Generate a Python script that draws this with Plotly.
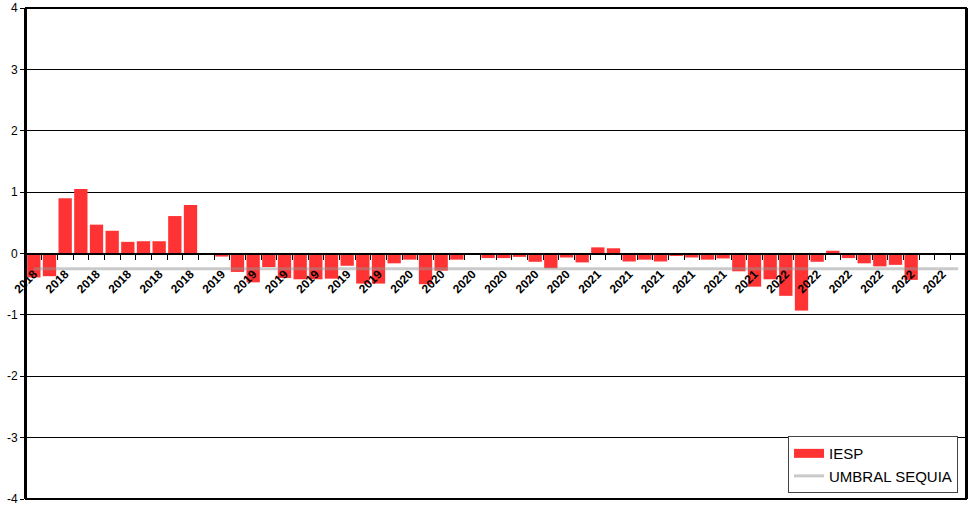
import plotly.graph_objects as go

# Months 2018-01 .. 2022-12
years = ["2018", "2019", "2020", "2021", "2022"]
months = [f"{y}-{m:02d}" for y in years for m in range(1, 13)]

iesp = [
    -0.39, -0.37, 0.90, 1.05, 0.47, 0.37, 0.19, 0.20, 0.20, 0.61, 0.79, 0.0,
    -0.05, -0.30, -0.47, -0.22, -0.40, -0.42, -0.42, -0.41, -0.20, -0.49, -0.49, -0.16,
    -0.10, -0.50, -0.28, -0.10, 0.0, -0.075, -0.075, -0.055, -0.135, -0.24, -0.065, -0.145,
    0.10, 0.085, -0.13, -0.10, -0.13, -0.04, -0.065, -0.10, -0.08, -0.29, -0.54, -0.42,
    -0.69, -0.93, -0.135, 0.045, -0.075, -0.16, -0.21, -0.185, -0.43, None, None, None,
]
umbral = [-0.25] * len(months)

tick_text = [m[:4] if i % 2 == 0 else "" for i, m in enumerate(months)]
y_ticks = [-4, -3, -2, -1, 0, 1, 2, 3, 4]
y_tick_text = [str(v) for v in y_ticks]

BAR_COLOR = "#FF3333"

fig = go.Figure()
fig.add_trace(go.Bar(
    x=months, y=iesp, name="IESP", showlegend=False, legendgroup="iesp",
    marker=dict(color=BAR_COLOR, line=dict(width=0)),
))
fig.add_trace(go.Scatter(
    x=months, y=umbral, name="UMBRAL SEQUIA", mode="lines", legendrank=2,
    line=dict(color="rgba(150,150,150,0.5)", width=3),
))
# legend-only proxy so the IESP key is drawn as a wide red block
fig.add_trace(go.Scatter(
    x=[None], y=[None], name="IESP", mode="lines", legendgroup="iesp", legendrank=1,
    line=dict(color=BAR_COLOR, width=9),
))

fig.update_layout(
    width=976, height=508,
    margin=dict(l=26, r=10, t=8, b=9, autoexpand=False),
    paper_bgcolor="white", plot_bgcolor="white",
    bargap=0.15,
    font=dict(family="Liberation Sans, Arial, sans-serif", size=12, color="black"),
    showlegend=True,
    legend=dict(
        x=0.9915, y=0.012, xanchor="right", yanchor="bottom",
        bgcolor="white", bordercolor="#444444", borderwidth=1,
        font=dict(size=15, color="black"),
        tracegroupgap=0,
    ),
    xaxis=dict(
        type="category",
        tickmode="array", tickvals=months, ticktext=tick_text,
        tickson="boundaries",
        ticks="outside", ticklen=5, tickcolor="black", tickwidth=1,
        tickangle=-45, ticklabelstandoff=8,
        tickfont=dict(size=12, weight="bold", color="black"),
        showline=True, linecolor="black", linewidth=2,
        showgrid=False, zeroline=False,
        anchor="free", position=0.5, automargin=False,
    ),
    yaxis=dict(
        range=[-4, 4], tickmode="array", tickvals=y_ticks, ticktext=y_tick_text,
        showgrid=True, gridcolor="black", gridwidth=1,
        zeroline=False,
        showline=True, linecolor="black", linewidth=2, mirror=True,
        ticks="outside", ticklen=4, tickcolor="black",
        tickfont=dict(size=12, color="black"),
        automargin=False,
    ),
    shapes=[dict(type="rect", xref="paper", yref="paper", x0=0, x1=1, y0=0, y1=1,
                 line=dict(color="black", width=2), layer="above")],
)

fig.write_html(
    "out.html",
    config={"displayModeBar": False},
    post_script="document.body.style.margin='0';document.body.style.overflow='hidden';",
)
